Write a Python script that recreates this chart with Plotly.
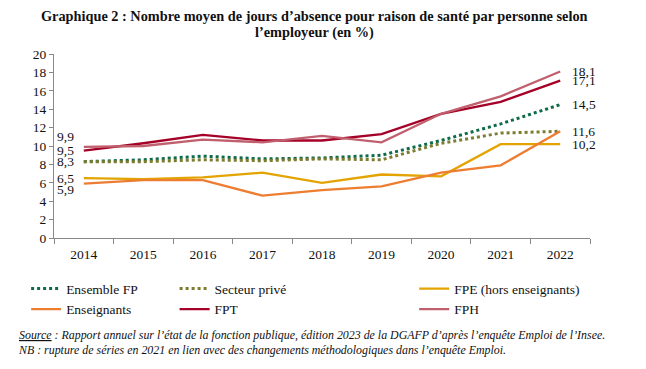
import plotly.graph_objects as go

years = ["2014", "2015", "2016", "2017", "2018", "2019", "2020", "2021", "2022"]
ensemble_fp = [8.3, 8.5, 8.9, 8.6, 8.7, 9.0, 10.6, 12.4, 14.5]
secteur_prive = [8.3, 8.3, 8.5, 8.4, 8.6, 8.5, 10.3, 11.4, 11.6]
fpe_hors_ens = [6.5, 6.4, 6.6, 7.1, 6.0, 6.9, 6.7, 10.2, 10.2]
enseignants = [5.9, 6.3, 6.3, 4.6, 5.2, 5.6, 7.1, 7.9, 11.6]
fpt = [9.5, 10.3, 11.2, 10.6, 10.6, 11.3, 13.5, 14.8, 17.1]
fph = [9.9, 10.0, 10.7, 10.4, 11.1, 10.4, 13.5, 15.4, 18.1]

FONT = "Liberation Serif"
C_ENS = "#0e6b47"
C_PRIV = "#7c7c30"
C_FPE = "#e3a300"
C_ENSG = "#ed7d31"
C_FPT = "#a50027"
C_FPH = "#c0606e"

series = [
    ("Ensemble FP", ensemble_fp, C_ENS, "3px,3px", 3, "legend"),
    ("Secteur privé", secteur_prive, C_PRIV, "3px,3px", 3, "legend2"),
    ("FPE (hors enseignants)", fpe_hors_ens, C_FPE, "solid", 2.3, "legend3"),
    ("Enseignants", enseignants, C_ENSG, "solid", 2.3, "legend"),
    ("FPT", fpt, C_FPT, "solid", 2.3, "legend2"),
    ("FPH", fph, C_FPH, "solid", 2.3, "legend3"),
]

fig = go.Figure()
for name, vals, col, dash, w, leg in series:
    fig.add_trace(go.Scatter(
        x=years, y=vals, name=name, mode="lines",
        line=dict(color=col, width=w, dash=dash),
        legend=leg,
    ))

first_i = 0
last_i = len(years) - 1
# value labels, first year (left) and last year (right)
left_labels = [(fph[0], 10), (fpt[0], 0), (ensemble_fp[0], 0), (fpe_hors_ens[0], 0), (enseignants[0], -6)]
for v, ys in left_labels:
    fig.add_annotation(x=first_i, y=v, text=f"{v:.1f}".replace(".", ","),
                       xanchor="right", yanchor="middle", xshift=-8, yshift=ys,
                       showarrow=False, font=dict(family=FONT, size=13.5, color="#111"))
right_labels = [fph[-1], fpt[-1], ensemble_fp[-1], secteur_prive[-1], fpe_hors_ens[-1]]
for v in right_labels:
    fig.add_annotation(x=last_i, y=v, text=f"{v:.1f}".replace(".", ","),
                       xanchor="left", yanchor="middle", xshift=10,
                       showarrow=False, font=dict(family=FONT, size=13.5, color="#111"))

title_lines = [
    ("Graphique 2 : Nombre moyen de jours d’absence pour raison de santé par personne selon", 1.205),
    ("l’employeur (en %)", 1.118),
]
for txt, yy in title_lines:
    fig.add_annotation(
        xref="paper", yref="paper", x=0.486, y=yy, xanchor="center", yanchor="middle",
        showarrow=False, text=f"<b>{txt}</b>",
        font=dict(family=FONT, size=14.3, color="#111"),
    )

fig.add_annotation(
    xref="paper", yref="paper", x=-0.071, y=-0.478, xanchor="left", yanchor="top",
    align="left", showarrow=False,
    text=("<i><u>Source</u> : Rapport annuel sur l’état de la fonction publique, édition 2023 de la DGAFP d’après l’enquête Emploi de l’Insee.</i><br>"
          "<i>NB : rupture de séries en 2021 en lien avec des changements méthodologiques dans l’enquête Emploi.</i>"),
    font=dict(family=FONT, size=11.9, color="#111"),
)

leg_common = dict(orientation="v", xanchor="left", yanchor="top", y=-0.192,
                  font=dict(family=FONT, size=13.5, color="#111"),
                  bgcolor="rgba(0,0,0,0)", itemwidth=30, tracegroupgap=0)

fig.update_layout(
    width=646, height=369,
    margin=dict(l=46, r=64, t=46, b=139),
    paper_bgcolor="white", plot_bgcolor="white",
    showlegend=True,
    legend=dict(x=-0.052, **leg_common),
    legend2=dict(x=0.225, **leg_common),
    legend3=dict(x=0.672, **leg_common),
    xaxis=dict(
        type="category", range=[-0.5, len(years) - 0.5], autorange=False,
        showgrid=False, showline=True, linecolor="#888", linewidth=1,
        ticks="outside", tickson="boundaries", ticklen=5, tickcolor="#888",
        ticklabelstandoff=4,
        tickfont=dict(family=FONT, size=13.5, color="#111"),
    ),
    yaxis=dict(
        range=[0, 20], dtick=2, showgrid=False, showline=True, linecolor="#888", linewidth=1,
        ticks="outside", ticklen=4, tickcolor="#888", zeroline=False,
        tickfont=dict(family=FONT, size=13.5, color="#111"),
    ),
)

fig.write_html("out.html")
